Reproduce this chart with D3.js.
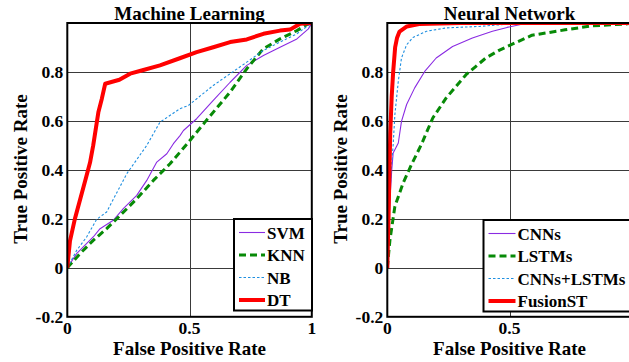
<!DOCTYPE html>
<html lang="en">
<head>
    <meta charset="UTF-8">
    <script src="https://cdn.jsdelivr.net/npm/d3@7"></script>
    <title>ROC curves</title>
    <style>
        body { margin: 0; background: #fff; }
        svg text { font-family: "Liberation Serif", "Times New Roman", serif; font-weight: bold; fill: #000; }
    </style>
</head>
<body>
    <div id="chart"></div>

    <script>
        // ---------------- data ----------------
        // Machine Learning panel, [FPR, TPR]
        const svmData = [[0,0],[0.038,0.058],[0.106,0.126],[0.134,0.16],[0.188,0.194],[0.229,0.242],[0.284,0.296],
            [0.325,0.357],[0.366,0.432],[0.407,0.466],[0.434,0.507],[0.461,0.54],[0.475,0.561],[0.529,0.609],
            [0.597,0.684],[0.666,0.758],[0.734,0.827],[0.802,0.867],[0.87,0.901],[0.939,0.935],[0.986,0.976],[1,1]];
        const knnData = [[0,0],[0.052,0.058],[0.106,0.112],[0.161,0.16],[0.216,0.214],[0.284,0.282],[0.352,0.357],
            [0.42,0.425],[0.489,0.505],[0.563,0.595],[0.666,0.718],[0.734,0.813],[0.802,0.895],[0.87,0.935],
            [0.939,0.969],[0.986,0.997],[1,1]];
        const nbData = [[0,0],[0.038,0.071],[0.079,0.126],[0.12,0.198],[0.161,0.228],[0.243,0.384],[0.325,0.5],
            [0.379,0.595],[0.461,0.65],[0.495,0.663],[0.597,0.745],[0.734,0.84],[0.802,0.888],[0.87,0.922],
            [0.939,0.956],[0.986,0.99],[1,1]];
        const dtData = [[0,0],[0.011,0.11],[0.031,0.2],[0.077,0.37],[0.093,0.43],[0.106,0.5],[0.127,0.635],
            [0.141,0.69],[0.155,0.752],[0.213,0.768],[0.257,0.793],[0.304,0.806],[0.379,0.827],[0.46,0.856],
            [0.529,0.881],[0.597,0.901],[0.666,0.922],[0.734,0.933],[0.802,0.956],[0.87,0.969],[0.911,0.973],
            [0.952,0.997],[1,1]];

        // Neural Network panel, [FPR, TPR]
        const cnnData = [[0,0],[0.004,0.115],[0.012,0.3],[0.018,0.398],[0.024,0.469],[0.045,0.51],[0.058,0.598],
            [0.079,0.667],[0.112,0.735],[0.153,0.802],[0.2,0.857],[0.267,0.904],[0.348,0.939],[0.43,0.966],
            [0.49,0.982],[0.55,0.995],[0.65,1],[1,1]];
        const lstmData = [[0,0],[0.011,0.115],[0.031,0.251],[0.065,0.347],[0.099,0.422],[0.139,0.503],
            [0.186,0.612],[0.241,0.694],[0.322,0.789],[0.403,0.857],[0.457,0.888],[0.49,0.904],[0.592,0.95],
            [0.727,0.972],[0.835,0.988],[0.976,0.996],[1,1]];
        const cnnLstmData = [[0,0],[0.008,0.25],[0.016,0.4],[0.024,0.503],[0.031,0.626],[0.045,0.762],
            [0.058,0.857],[0.079,0.911],[0.105,0.941],[0.16,0.966],[0.241,0.98],[0.376,0.986],[0.5,0.996],
            [0.65,1],[1,1]];
        const fusionData = [[0,0],[0.005,0.2],[0.009,0.4],[0.012,0.55],[0.018,0.7],[0.024,0.8],[0.032,0.9],
            [0.04,0.94],[0.05,0.965],[0.08,0.986],[0.13,0.996],[0.3,1],[1,1]];

        const mlNames = ["SVM", "KNN", "NB", "DT"];
        const nnNames = ["CNNs", "LSTMs", "CNNs+LSTMs", "FusionST"];
        const xTicks = [0, 0.5, 1];
        const yTicks = [-0.2, 0, 0.2, 0.4, 0.6, 0.8];

        // line styles: thin purple, thick green dashed, thin blue dotted, thick red
        const styles = [
            { color: "#8a2be2", width: 1.1, dash: null },
            { color: "#078a07", width: 3, dash: "7,4" },
            { color: "#1f8fe0", width: 1.1, dash: "2.5,2" },
            { color: "#ff0000", width: 4, dash: null }
        ];

        const W = 629, H = 362;
        const svg = d3.select("#chart").append("svg")
            .attr("width", W)
            .attr("height", H);

        const drawPanel = (opts) => {
            const x = d3.scaleLinear().domain([0, 1]).range([opts.left, opts.left + 244.5]);
            const y = d3.scaleLinear().domain([-0.2, 1]).range([316.8, 23]);
            const g = svg.append("g");

            const clipId = "clip" + opts.id;
            svg.append("clipPath").attr("id", clipId)
                .append("rect")
                .attr("x", x(0)).attr("y", y(1))
                .attr("width", x(1) - x(0)).attr("height", y(-0.2) - y(1));

            // grid
            g.selectAll(".gy").data(yTicks.filter(t => t > -0.2))
                .enter().append("line")
                .attr("x1", x(0)).attr("x2", x(1))
                .attr("y1", d => Math.round(y(d)) + 0.5).attr("y2", d => Math.round(y(d)) + 0.5)
                .attr("stroke", "#3a3a3a").attr("stroke-width", 1);
            g.selectAll(".gx").data(xTicks.filter(t => t > 0 && t < 1))
                .enter().append("line")
                .attr("x1", d => Math.round(x(d)) + 0.5).attr("x2", d => Math.round(x(d)) + 0.5)
                .attr("y1", y(1)).attr("y2", y(-0.2))
                .attr("stroke", "#3a3a3a").attr("stroke-width", 1);

            // curves
            const line = d3.line().x(d => x(d[0])).y(d => y(d[1]));
            opts.series.forEach((s, i) => {
                g.append("path")
                    .datum(s)
                    .attr("clip-path", `url(#${clipId})`)
                    .attr("d", line)
                    .attr("fill", "none")
                    .attr("stroke", styles[i].color)
                    .attr("stroke-width", styles[i].width)
                    .attr("stroke-dasharray", styles[i].dash)
                    .attr("stroke-linejoin", "round");
            });

            // axes box
            g.append("rect")
                .attr("x", x(0)).attr("y", y(1))
                .attr("width", x(1) - x(0)).attr("height", y(-0.2) - y(1))
                .attr("fill", "none").attr("stroke", "#000").attr("stroke-width", 2);

            // tick labels (the right panel's "1" falls outside the window)
            g.selectAll(".yt").data(yTicks)
                .enter().append("text")
                .attr("x", x(0) - 4)
                .attr("y", d => y(d) + 6)
                .attr("text-anchor", "end")
                .attr("font-size", 17.5)
                .text(d => d3.format("")(d).replace("−", "-"));
            g.selectAll(".xt").data(xTicks.filter(t => x(t) < W - 6))
                .enter().append("text")
                .attr("x", d => x(d))
                .attr("y", 334)
                .attr("text-anchor", "middle")
                .attr("font-size", 17.5)
                .text(d => d);

            // titles and axis labels
            g.append("text")
                .attr("x", (x(0) + x(1)) / 2).attr("y", 19.5)
                .attr("text-anchor", "middle").attr("font-size", 19)
                .text(opts.title);
            g.append("text")
                .attr("x", (x(0) + x(1)) / 2).attr("y", 355)
                .attr("text-anchor", "middle").attr("font-size", 19)
                .text("False Positive Rate");
            g.append("text")
                .attr("transform", `translate(${opts.left - 40},169) rotate(-90)`)
                .attr("text-anchor", "middle").attr("font-size", 19)
                .text("True Positive Rate");

            // legend
            const lg = g.append("g");
            lg.append("rect")
                .attr("x", opts.legX).attr("y", opts.legY)
                .attr("width", opts.legW).attr("height", 91.5)
                .attr("fill", "#fff").attr("stroke", "#000").attr("stroke-width", 2);
            opts.names.forEach((name, i) => {
                const ly = opts.legY + 13.5 + i * 22.5;
                lg.append("line")
                    .attr("x1", opts.legX + 5).attr("x2", opts.legX + opts.lineLen)
                    .attr("y1", ly).attr("y2", ly)
                    .attr("stroke", styles[i].color)
                    .attr("stroke-width", styles[i].width)
                    .attr("stroke-dasharray", styles[i].dash);
                lg.append("text")
                    .attr("x", opts.legX + opts.lineLen + 2)
                    .attr("y", ly + 6)
                    .attr("font-size", 17)
                    .text(name);
            });
        };

        drawPanel({
            id: 1, left: 67.3, title: "Machine Learning",
            series: [svmData, knnData, nbData, dtData], names: mlNames,
            legX: 234, legY: 219, legW: 78, lineLen: 31
        });
        drawPanel({
            id: 2, left: 387.3, title: "Neural Network",
            series: [cnnData, lstmData, cnnLstmData, fusionData], names: nnNames,
            legX: 483.5, legY: 220, legW: 160, lineLen: 32
        });
    </script>
</body>
</html>
